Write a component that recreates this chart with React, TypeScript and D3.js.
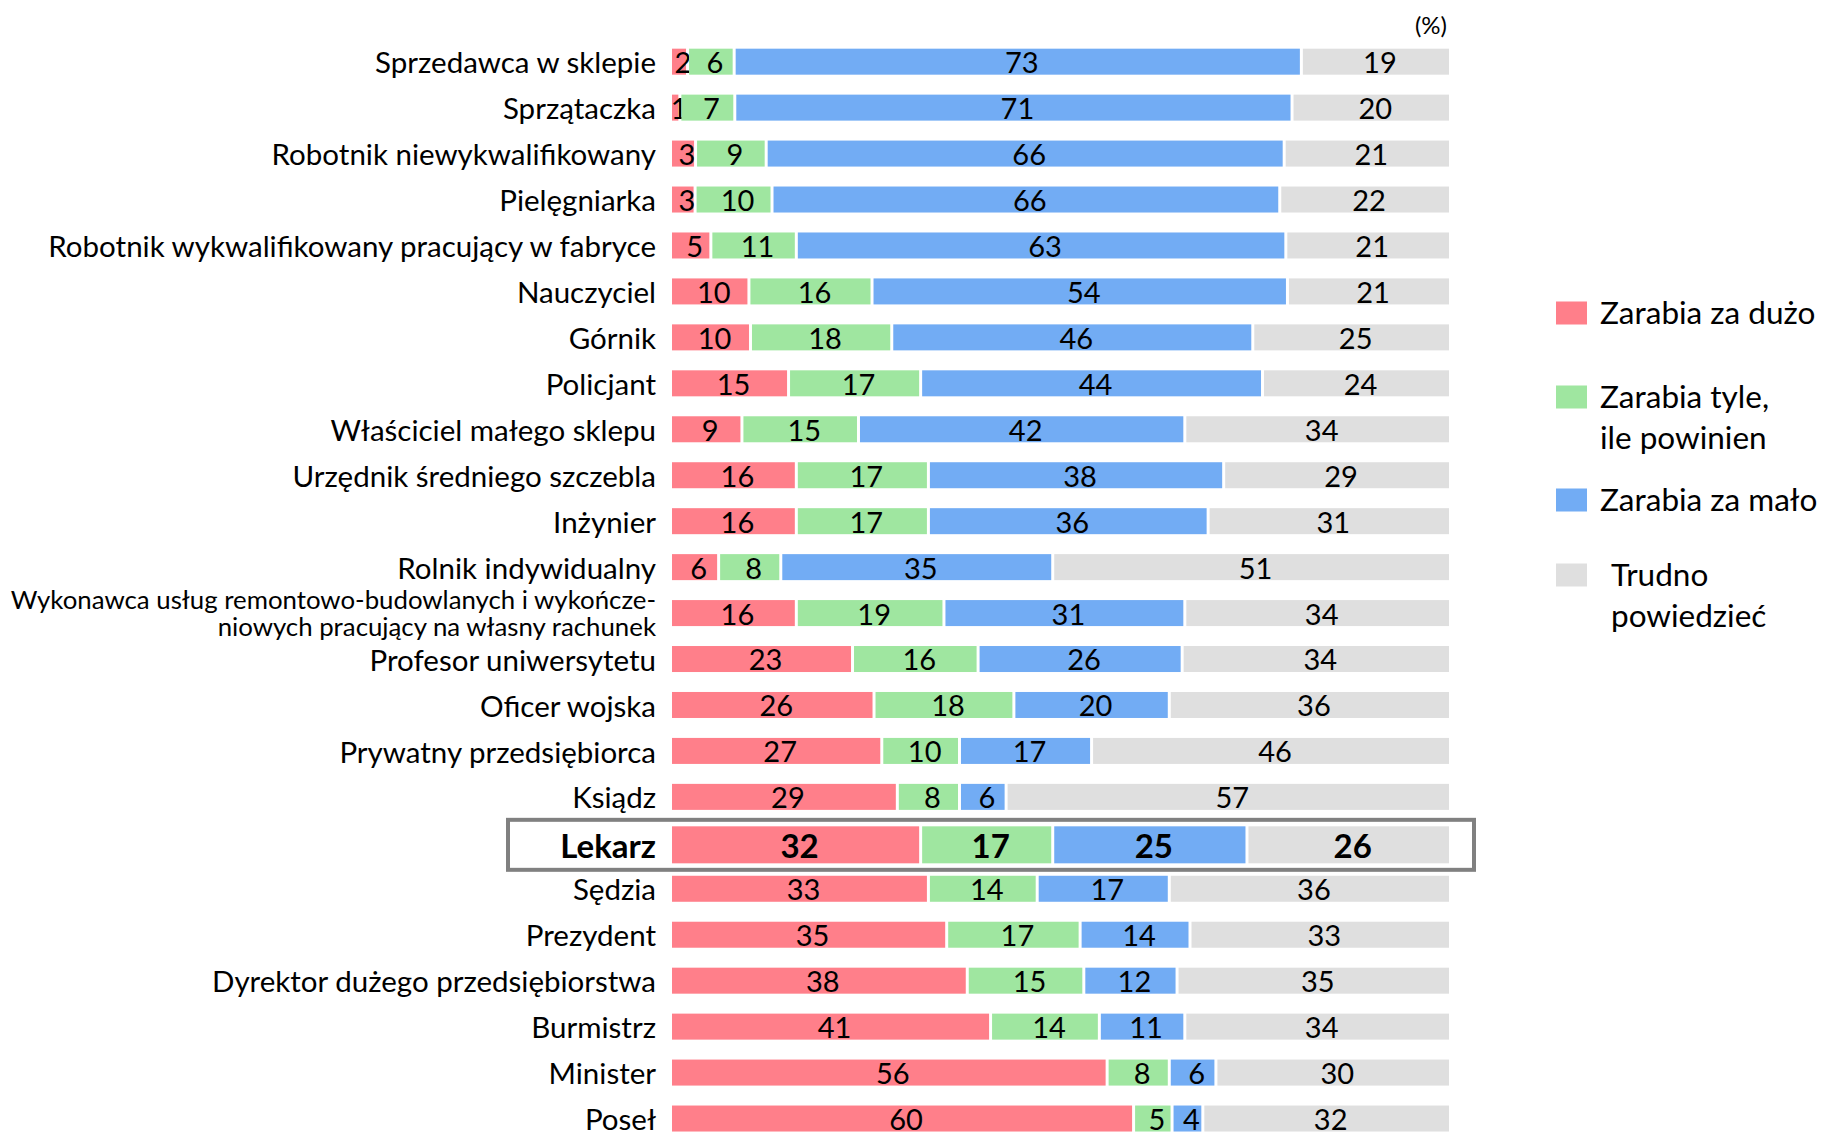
import { useRef, useEffect } from "react";
import * as d3 from "d3";

const occupations = [
  "Sprzedawca w sklepie",
  "Sprzątaczka",
  "Robotnik niewykwalifikowany",
  "Pielęgniarka",
  "Robotnik wykwalifikowany pracujący w fabryce",
  "Nauczyciel",
  "Górnik",
  "Policjant",
  "Właściciel małego sklepu",
  "Urzędnik średniego szczebla",
  "Inżynier",
  "Rolnik indywidualny",
  "Wykonawca usług remontowo-budowlanych i wykończe-|niowych pracujący na własny rachunek",
  "Profesor uniwersytetu",
  "Oficer wojska",
  "Prywatny przedsiębiorca",
  "Ksiądz",
  "Lekarz",
  "Sędzia",
  "Prezydent",
  "Dyrektor dużego przedsiębiorstwa",
  "Burmistrz",
  "Minister",
  "Poseł",
];

const tooMuch = [2, 1, 3, 3, 5, 10, 10, 15, 9, 16, 16, 6, 16, 23, 26, 27, 29, 32, 33, 35, 38, 41, 56, 60];
const fair = [6, 7, 9, 10, 11, 16, 18, 17, 15, 17, 17, 8, 19, 16, 18, 10, 8, 17, 14, 17, 15, 14, 8, 5];
const tooLittle = [73, 71, 66, 66, 63, 54, 46, 44, 42, 38, 36, 35, 31, 26, 20, 17, 6, 25, 17, 14, 12, 11, 6, 4];
const hardToSay = [19, 20, 21, 22, 21, 21, 25, 24, 34, 29, 31, 51, 34, 34, 36, 46, 57, 26, 36, 33, 35, 34, 30, 32];

const seriesNames = ["Zarabia za dużo", "Zarabia tyle,|ile powinien", "Zarabia za mało", "Trudno|powiedzieć"];
const colors = ["#ff7f8a", "#9fe6a0", "#72acf4", "#dfdfdf"];
const highlight = "Lekarz";

export default function App() {
  const ref = useRef<HTMLDivElement>(null);

  function init() {
    const el = ref.current!;
    el.innerHTML = "";
    const W = 1826,
      H = 1132;
    const font = "Lato, 'Open Sans', sans-serif";

    const svg = d3
      .select(el)
      .append("svg")
      .attr("width", W)
      .attr("height", H)
      .style("display", "block")
      .style("font-family", font);

    const rows = occupations.map((name, i) => {
      const vals = [tooMuch[i], fair[i], tooLittle[i], hardToSay[i]];
      return { name, vals, total: d3.sum(vals) };
    });

    const x = d3.scaleLinear().domain([0, 1]).range([672, 1449]);
    const y = d3.scaleBand().domain(occupations).range([38.7, 1141.5]);
    const gap = 1.5;

    // Highlight box
    const ly = y(highlight)! + y.bandwidth() / 2 + 2;
    svg
      .append("rect")
      .attr("x", 508)
      .attr("y", ly - 25)
      .attr("width", 966)
      .attr("height", 50)
      .attr("fill", "none")
      .attr("stroke", "#808080")
      .attr("stroke-width", 4);

    const g = svg.append("g");

    rows.forEach((r) => {
      const hi = r.name === highlight;
      const cy = y(r.name)! + y.bandwidth() / 2 + (hi ? 2 : 0);
      const bh = hi ? 37 : 26;
      let cum = 0;
      r.vals.forEach((v, k) => {
        const x0 = x(cum / r.total) + (k > 0 ? gap : 0);
        cum += v;
        const x1 = x(cum / r.total) - (k < 3 ? gap : 0);
        g.append("rect")
          .attr("x", x0)
          .attr("y", cy - bh / 2)
          .attr("width", Math.max(0, x1 - x0))
          .attr("height", bh)
          .attr("fill", colors[k]);
        g.append("text")
          .attr("x", (x0 + x1) / 2 + 4)
          .attr("y", cy + 1)
          .attr("dy", "0.36em")
          .attr("text-anchor", "middle")
          .attr("font-size", hi ? 33 : 29)
          .attr("font-weight", hi ? "bold" : "normal")
          .attr("fill", "#000")
          .text(v);
      });

      // category label
      const lines = r.name.split("|");
      if (lines.length === 1) {
        g.append("text")
          .attr("x", 656)
          .attr("y", cy + 1)
          .attr("dy", "0.36em")
          .attr("text-anchor", "end")
          .attr("font-size", hi ? 33 : 29.5)
          .attr("font-weight", hi ? "bold" : "normal")
          .text(lines[0]);
      } else {
        lines.forEach((ln, j) => {
          g.append("text")
            .attr("x", 656)
            .attr("y", cy - 13.5 + j * 27)
            .attr("dy", "0.36em")
            .attr("text-anchor", "end")
            .attr("font-size", 25.8)
            .text(ln);
        });
      }
    });

    // (%)
    svg
      .append("text")
      .attr("x", 1447)
      .attr("y", 25)
      .attr("dy", "0.36em")
      .attr("text-anchor", "end")
      .attr("font-size", 24)
      .text("(%)");

    // Legend
    const legendY = [313, 397, 500, 575];
    const legend = svg.append("g");
    seriesNames.forEach((s, k) => {
      const lines = s.split("|");
      legend
        .append("rect")
        .attr("x", 1556)
        .attr("y", legendY[k] - 11.5)
        .attr("width", 31)
        .attr("height", 23)
        .attr("fill", colors[k]);
      lines.forEach((ln, j) => {
        legend
          .append("text")
          .attr("x", k === 3 ? 1611 : 1600)
          .attr("y", legendY[k] + j * 41)
          .attr("dy", "0.36em")
          .attr("font-size", 31.5)
          .text(ln);
      });
    });
  }

  useEffect(init, []);

  return (
    <div
      ref={ref}
      style={{ position: "absolute", left: 0, top: 0, background: "#fff" }}
    ></div>
  );
}
